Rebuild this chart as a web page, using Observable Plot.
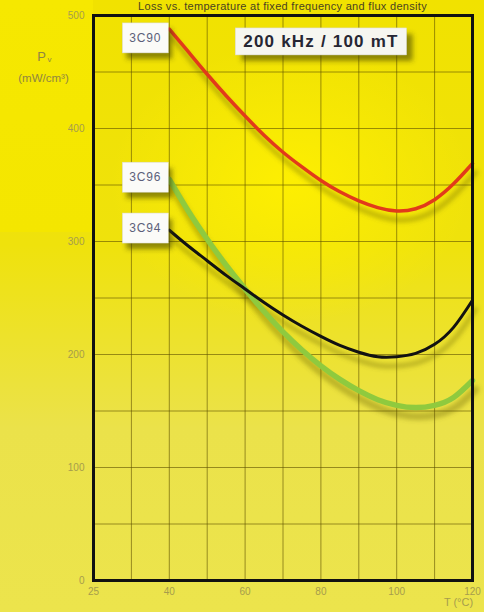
<!DOCTYPE html>
<html>
<head>
<meta charset="utf-8">
<script src="https://cdn.jsdelivr.net/npm/d3@7"></script>
<script src="https://cdn.jsdelivr.net/npm/@observablehq/plot@0.6"></script>
<style>
  html, body { margin: 0; padding: 0; width: 484px; height: 612px; overflow: hidden; }
  body {
    position: relative;
    background:
      linear-gradient(#f6e800, #f4e600) 0 0 / 93px 232px no-repeat,
      radial-gradient(ellipse 260px 200px at 60% 30%, rgba(255,240,0,0.9), rgba(255,240,0,0) 70%),
      linear-gradient(180deg, #f1e200 0%, #efe20c 40%, #ebe24a 70%, #ece44c 100%);
    font-family: "Liberation Sans", Arial, sans-serif;
  }
  #title {
    position: absolute; top: 0px; left: 93px; width: 379px; text-align: center;
    font-size: 11px; line-height: 13px; color: #4a4220; white-space: nowrap; letter-spacing: 0.3px;
  }
  #chart { position: absolute; top: 0; left: 0; }
</style>
</head>
<body>
<div id="title">Loss vs. temperature at fixed frequency and flux density</div>
<div id="chart"></div>
<script>
// ---- data ----
const temps   = [40, 45, 50, 55, 60, 65, 70, 75, 80, 85, 90, 95, 100, 105, 110, 115, 120];
const p3C90   = [488, 468, 448, 429, 411, 394, 379, 366, 354, 344, 336, 330, 327, 329, 337, 351, 369];
const p3C96   = [355, 327, 302, 279, 258, 238, 220, 204, 190, 178, 168, 160, 155, 153, 155, 162, 177];
const p3C94   = [310, 296, 283, 270, 258, 246, 235, 225, 216, 208, 202, 198, 198, 201, 209, 224, 248];
const seriesNames = ["3C96", "3C94", "3C90"];
const seriesValues = [p3C96, p3C94, p3C90];
const xTickValues = [20, 40, 60, 80, 100, 120];
const xTickLabels = ["25", "40", "60", "80", "100", "120"];
const yTickValues = [0, 100, 200, 300, 400, 500];
const xGridValues = [30, 40, 50, 60, 70, 80, 90, 100, 110];
const yGridValues = [50, 100, 150, 200, 250, 300, 350, 400, 450];
const conditionText = "200 kHz / 100 mT";
const conditionAt = {T: 80, P: 477};

// ---- build table ----
const rows = [];
seriesNames.forEach((name, i) => temps.forEach((t, j) => rows.push({series: name, T: t, P: seriesValues[i][j]})));
const firsts = seriesNames.map((name, i) => ({series: name, T: temps[0], P: seriesValues[i][0]}));

const colors = {"3C90": "#e23a1a", "3C94": "#121212", "3C96": "#8fca3e"};
const widths = {"3C90": 3.5, "3C94": 3, "3C96": 5.5};
const SHADOW = "#5e5a00";
const LABELFILL = "#5b5f7a";

const lineMarks = seriesNames.map(name => Plot.line(rows.filter(r => r.series === name), {
  x: "T", y: "P", curve: "natural", stroke: colors[name], strokeWidth: widths[name], strokeLinecap: "round"
}));
const shadowMarks = seriesNames.map(name => Plot.line(rows.filter(r => r.series === name), {
  x: "T", y: "P", curve: "natural", stroke: SHADOW, strokeOpacity: 0.32, strokeWidth: widths[name] + 2, dx: 3, dy: 9
}));

const chart = Plot.plot({
  width: 484,
  height: 612,
  marginTop: 15,
  marginRight: 12,
  marginBottom: 32,
  marginLeft: 93,
  style: {background: "transparent", fontFamily: "Liberation Sans, Arial, sans-serif", overflow: "visible"},
  x: {domain: [20, 120]},
  y: {domain: [0, 500]},
  marks: [
    Plot.ruleX(xGridValues, {stroke: "#5e5000", strokeOpacity: 0.6, strokeWidth: 1}),
    Plot.ruleY(yGridValues, {stroke: "#5e5000", strokeOpacity: 0.6, strokeWidth: 1}),
    ...shadowMarks,
    lineMarks[0], lineMarks[1], lineMarks[2],
    Plot.frame({stroke: "#111", strokeWidth: 3}),
    Plot.axisY({ticks: yTickValues, tickSize: 0, tickPadding: 9, fontSize: 10, fill: "#a69d4c", label: null}),
    Plot.axisX({ticks: xTickValues, tickFormat: d => xTickLabels[xTickValues.indexOf(d)], tickSize: 0, tickPadding: 7, fontSize: 10, fill: "#a69d4c", label: null}),
    Plot.text(firsts.filter(d => d.series !== "3C90"), {x: "T", y: "P", text: "series", dx: -24, dy: -2, fill: LABELFILL, fontSize: 12, textAnchor: "middle", lineAnchor: "middle"}),
    Plot.text(firsts.filter(d => d.series === "3C90"), {x: "T", y: "P", text: "series", dx: -24, dy: 9, fill: LABELFILL, fontSize: 12, textAnchor: "middle", lineAnchor: "middle"}),
    Plot.text([conditionAt], {x: "T", y: "P", text: () => conditionText, fill: "#262633", fontSize: 17, fontWeight: "bold", textAnchor: "middle", lineAnchor: "middle"}),
    Plot.text(["T (°C)"], {frameAnchor: "bottom-right", text: d => d, dx: -14, dy: 25, fill: "#a69d4c", fontSize: 11, textAnchor: "middle"}),
    Plot.text(["P"], {frameAnchor: "top-left", text: d => d, dx: -52, dy: 36, fill: "#8f8640", fontSize: 13, textAnchor: "middle"}),
    Plot.text(["v"], {frameAnchor: "top-left", text: d => d, dx: -44, dy: 41, fill: "#8f8640", fontSize: 8, textAnchor: "middle"}),
    Plot.text(["(mW/cm³)"], {frameAnchor: "top-left", text: d => d, dx: -50, dy: 58, fill: "#8f8640", fontSize: 11.5, textAnchor: "middle"})
  ]
});

document.getElementById("chart").appendChild(chart);

// ---- post: blur filter for shadows, boxes behind labels ----
const svg = d3.select(chart);
const defs = svg.insert("defs", ":first-child");
defs.append("filter").attr("id", "blur").attr("x", "-20%").attr("y", "-20%").attr("width", "140%").attr("height", "140%")
  .append("feGaussianBlur").attr("stdDeviation", 2.2);
defs.append("filter").attr("id", "blur2").attr("x", "-30%").attr("y", "-30%").attr("width", "160%").attr("height", "160%")
  .append("feGaussianBlur").attr("stdDeviation", 2.5);
svg.selectAll(`g[stroke="${SHADOW}"]`).attr("filter", "url(#blur)");

svg.selectAll(`g[fill="${LABELFILL}"] text`).attr("letter-spacing", 0.8);
svg.selectAll(`g[fill="#262633"] text`).attr("letter-spacing", 1.2);

function boxText(sel, padX, padY, shadowDx, shadowDy, fillColor) {
  sel.each(function() {
    const b = this.getBBox();
    const g = this.parentNode;
    const tr = this.getAttribute("transform");
    const sh = document.createElementNS("http://www.w3.org/2000/svg", "rect");
    const bx = document.createElementNS("http://www.w3.org/2000/svg", "rect");
    for (const [r, dx, dy] of [[sh, shadowDx, shadowDy], [bx, 0, 0]]) {
      r.setAttribute("x", b.x - padX + dx);
      r.setAttribute("y", b.y - padY + dy);
      r.setAttribute("width", b.width + 2 * padX);
      r.setAttribute("height", b.height + 2 * padY);
      if (tr) r.setAttribute("transform", tr);
    }
    sh.setAttribute("fill", "#3c3800"); sh.setAttribute("fill-opacity", 0.55); sh.setAttribute("filter", "url(#blur2)");
    bx.setAttribute("fill", fillColor); bx.setAttribute("stroke", "#d8d8d0"); bx.setAttribute("stroke-width", 0.5);
    g.insertBefore(sh, this);
    g.insertBefore(bx, this);
  });
}
boxText(svg.selectAll(`g[fill="${LABELFILL}"] text`), 7, 8, 4, 6, "#fbfbf8");
boxText(svg.selectAll(`g[fill="#262633"] text`), 8, 4, 6, 6, "#f6f6f0");
</script>
</body>
</html>
